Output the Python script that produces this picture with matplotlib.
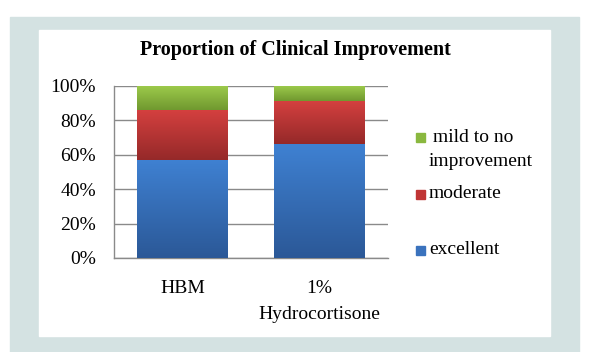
import matplotlib
matplotlib.use('Agg')
import matplotlib.pyplot as plt
import numpy as np
from matplotlib.patches import Rectangle
from matplotlib.colors import LinearSegmentedColormap

# data (percent)
categories = ['HBM', '1%\nHydrocortisone']
excellent = [57, 66]
moderate = [29, 25]
mild = [14, 9]
series_names = ['excellent', 'moderate', 'mild to no\nimprovement']

# gradient colours (top, bottom)
grads = [('#3f81d2', '#2b5897'), ('#d4403f', '#952929'), ('#9ecc4c', '#70982f')]
solid = ['#3a72bd', '#c03535', '#8ab83f']

plt.rcParams['font.family'] = ['Liberation Serif', 'DejaVu Serif']
FS = 14

fig = plt.figure(figsize=(5.98, 3.52), dpi=100)
W, H = 598, 352

def px(x0, y0, x1, y1):
    # pixel box -> figure fraction rectangle
    return (x0 / W, 1 - y1 / H), (x1 - x0) / W, (y1 - y0) / H

# frame + white panel
xy, w, h = px(10, 17, 579, 352)
fig.patches.append(Rectangle(xy, w, h, transform=fig.transFigure, color='#d4e2e2', zorder=-2))
xy, w, h = px(39, 30, 550, 336)
fig.patches.append(Rectangle(xy, w, h, transform=fig.transFigure, color='white', zorder=-1))

ax = fig.add_axes([114 / W, 1 - 258 / H, 274 / W, 172 / H])
ax.set_zorder(2)
ax.set_facecolor('none')

x = np.arange(len(categories))
bottom = np.zeros(len(categories))
containers = []
for vals, c in zip([excellent, moderate, mild], solid):
    bc = ax.bar(x, vals, bottom=bottom, width=0.66, color=c, zorder=3)
    containers.append(bc)
    bottom += np.array(vals)

# vertical gradient fill clipped to each bar
grad = np.linspace(0, 1, 256).reshape(-1, 1)
for bc, (top, bot) in zip(containers, grads):
    cmap = LinearSegmentedColormap.from_list('g', [bot, top])
    for p in bc:
        x0, y0, bw, bh = p.get_x(), p.get_y(), p.get_width(), p.get_height()
        im = ax.imshow(grad, extent=(x0, x0 + bw, y0, y0 + bh), origin='lower',
                       cmap=cmap, aspect='auto', zorder=4, interpolation='bilinear')
        im.set_clip_path(p)

ax.set_xlim(-0.5, len(categories) - 0.5)
ax.set_ylim(0, 100)
ax.set_yticks(range(0, 101, 20))
ax.set_yticklabels([f'{v}%' for v in range(0, 101, 20)])
ax.set_xticks(x)
ax.set_xticklabels(categories, linespacing=1.7, va='top')
ax.tick_params(axis='y', length=0, pad=13, labelsize=FS)
ax.tick_params(axis='x', length=0, pad=16, labelsize=FS)
ax.yaxis.grid(True, color='#8a8a8a', linewidth=1.0, zorder=1)
ax.set_axisbelow(True)
for s in ['top', 'right']:
    ax.spines[s].set_visible(False)
for s in ['left', 'bottom']:
    ax.spines[s].set_color('#8a8a8a')
    ax.spines[s].set_linewidth(1.0)

fig.text(295 / W, 1 - 50 / H, 'Proportion of Clinical Improvement',
         ha='center', va='center', fontsize=14.5, fontweight='bold')

# legend (manual, Excel-style spacing)
leg_y = [250, 194, 137]
for name, c, yy in zip(series_names, solid, leg_y):
    xy, w, h = px(416, yy - 4.5, 425, yy + 4.5)
    fig.patches.append(Rectangle(xy, w, h, transform=fig.transFigure, color=c, zorder=2))
    if '\n' in name:
        l1, l2 = name.split('\n')
        fig.text(433 / W, 1 - yy / H, l1, ha='left', va='center', fontsize=FS)
        fig.text(429 / W, 1 - (yy + 25) / H, l2, ha='left', va='center', fontsize=FS)
    else:
        fig.text(429 / W, 1 - yy / H, name, ha='left', va='center', fontsize=FS)

fig.savefig('out.png', dpi=100)
